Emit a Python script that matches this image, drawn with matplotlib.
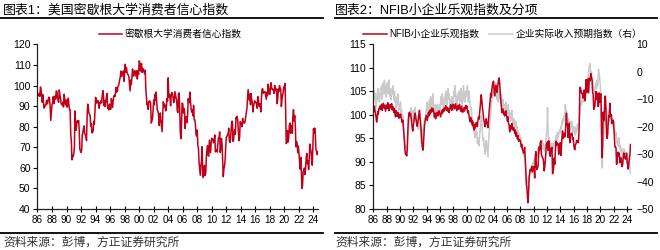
import matplotlib
matplotlib.use("Agg")
import matplotlib.pyplot as plt
import matplotlib.dates as mdates
from matplotlib.lines import Line2D
import pandas as pd

plt.rcParams['font.family'] = ['Liberation Sans', 'Noto Sans CJK SC', 'DejaVu Sans']

# ================= DATA =================
# 密歇根大学消费者信心指数, monthly from 1986-01
michigan = [
    95.6, 95.9, 95.1, 96.2, 94.8, 99.3, 97.7, 94.9, 91.9, 95.6, 91.4, 89.1,
    90.4, 90.2, 90.8, 92.8, 91.1, 91.5, 93.7, 94.4, 93.6, 89.3, 83.1, 86.8,
    90.8, 91.6, 94.6, 91.2, 94.8, 94.7, 93.4, 97.4, 97.3, 94.1, 93.0, 91.9,
    97.9, 95.4, 94.3, 91.5, 90.7, 90.6, 92.0, 89.6, 95.8, 93.9, 90.9, 90.5,
    93.0, 89.5, 91.3, 93.9, 90.6, 88.3, 88.2, 76.4, 72.8, 63.9, 66.0, 65.5,
    66.8, 70.4, 87.7, 81.8, 78.3, 82.1, 82.9, 82.0, 83.0, 78.3, 69.1, 68.2,
    67.5, 68.8, 76.0, 77.2, 79.2, 80.4, 76.6, 76.1, 75.6, 73.3, 85.3, 91.0,
    89.3, 86.6, 85.9, 85.6, 80.3, 81.5, 77.0, 77.3, 77.9, 82.7, 81.2, 88.2,
    94.3, 93.2, 91.5, 92.6, 92.8, 91.2, 89.0, 91.7, 91.5, 92.7, 91.6, 95.1,
    97.6, 95.1, 90.3, 92.5, 89.8, 92.7, 94.4, 96.2, 88.9, 90.2, 88.2, 91.0,
    89.3, 88.5, 93.7, 92.7, 89.4, 92.4, 94.7, 95.3, 94.7, 96.5, 99.2, 96.9,
    97.4, 99.7, 100.0, 101.4, 103.2, 104.5, 107.1, 104.4, 106.0, 105.6, 107.2, 102.1,
    106.6, 110.4, 106.5, 108.7, 106.5, 105.6, 105.2, 104.4, 100.9, 97.4, 102.7, 100.5,
    103.9, 108.1, 105.7, 104.6, 106.8, 107.3, 106.0, 104.5, 107.2, 103.2, 107.2, 105.4,
    112.0, 111.3, 107.1, 109.2, 110.7, 106.4, 108.3, 107.3, 106.8, 105.8, 107.6, 98.4,
    94.7, 90.6, 91.5, 88.4, 92.0, 92.6, 92.4, 91.5, 81.8, 82.7, 83.9, 88.8,
    93.0, 90.7, 95.7, 93.0, 96.9, 92.4, 88.1, 87.6, 86.1, 80.6, 84.2, 86.7,
    82.4, 79.9, 77.6, 86.0, 92.1, 89.7, 90.9, 89.3, 87.7, 89.6, 93.7, 92.6,
    103.8, 94.4, 95.8, 94.2, 90.2, 95.6, 96.7, 95.9, 94.2, 91.7, 92.8, 97.1,
    95.5, 94.1, 92.6, 87.7, 86.9, 96.0, 96.5, 89.1, 76.9, 74.2, 81.6, 91.5,
    91.2, 86.7, 88.9, 87.4, 79.1, 84.9, 84.7, 82.0, 85.4, 93.6, 92.1, 91.7,
    96.9, 91.3, 88.4, 87.1, 88.3, 85.3, 90.4, 83.4, 83.4, 80.9, 76.1, 75.5,
    78.4, 70.8, 69.5, 62.6, 59.8, 56.4, 61.2, 63.0, 70.3, 57.6, 55.3, 60.1,
    61.2, 56.3, 57.3, 65.1, 68.7, 70.8, 66.0, 65.7, 73.5, 70.6, 67.4, 72.5,
    74.4, 73.6, 73.6, 72.2, 73.6, 76.0, 67.8, 68.9, 68.2, 67.7, 71.6, 74.5,
    74.2, 77.5, 67.5, 69.8, 74.3, 71.5, 63.7, 55.7, 59.5, 60.8, 63.7, 69.9,
    75.0, 75.3, 76.2, 76.4, 79.3, 73.2, 72.3, 74.3, 78.3, 82.6, 82.7, 72.9,
    73.8, 77.6, 78.6, 76.4, 84.5, 84.1, 85.1, 82.1, 77.5, 73.2, 75.1, 82.5,
    81.2, 81.6, 80.0, 84.1, 81.9, 82.5, 81.8, 82.5, 84.6, 86.9, 88.8, 93.6,
    98.1, 95.4, 93.0, 95.9, 90.7, 96.1, 93.1, 91.9, 87.2, 90.0, 91.3, 92.6,
    92.0, 91.7, 91.0, 89.0, 94.7, 93.5, 90.0, 89.8, 91.2, 87.2, 93.8, 98.2,
    98.5, 96.3, 96.9, 97.0, 97.1, 95.1, 93.4, 96.8, 95.1, 100.7, 98.5, 95.9,
    95.7, 99.7, 101.4, 98.8, 98.0, 98.2, 97.9, 96.2, 100.1, 98.6, 97.5, 98.3,
    91.2, 93.8, 98.4, 97.2, 100.0, 98.2, 98.4, 89.8, 93.2, 95.5, 96.8, 99.3,
    99.8, 101.0, 89.1, 71.8, 72.3, 78.1, 72.5, 74.1, 80.4, 81.8, 76.9, 80.7,
    79.0, 76.8, 84.9, 88.3, 82.9, 85.5, 81.2, 70.3, 72.8, 71.7, 67.4, 70.6,
    67.2, 62.8, 59.4, 65.2, 58.4, 50.0, 51.5, 58.2, 58.6, 59.9, 56.8, 59.7,
    64.9, 67.0, 62.0, 63.5, 59.2, 64.4, 71.6, 69.5, 67.9, 63.8, 61.3, 69.7,
    79.0, 76.9, 79.4, 77.2, 69.1, 68.2, 66.4, 67.9,
]

# NFIB小企业乐观指数, monthly from 1986-01
nfib = [
    101.5, 100.8, 101.9, 101.0, 100.2, 99.6, 98.5, 99.2, 100.7, 100.2, 101.3, 101.6,
    101.9, 101.2, 101.8, 102.3, 101.0, 101.7, 102.5, 101.9, 101.4, 102.1, 100.8, 101.5,
    102.1, 101.4, 102.6, 101.8, 100.9, 101.7, 102.2, 101.5, 101.9, 102.4, 101.1, 101.8,
    101.2, 100.5, 101.4, 100.3, 99.6, 100.9, 100.2, 99.7, 100.6, 99.9, 99.3, 100.1,
    99.6, 100.2, 99.4, 99.1, 98.4, 98.9, 97.6, 96.0, 94.1, 92.4, 91.6, 91.9,
    91.3, 92.8, 96.2, 99.0, 100.2, 100.6, 99.8, 100.3, 99.4, 98.4, 97.2, 96.6,
    97.8, 98.6, 99.8, 100.4, 99.6, 98.9, 98.1, 97.6, 98.5, 99.1, 100.3, 101.0,
    99.5, 98.4, 96.8, 94.6, 93.2, 92.5, 93.6, 95.9, 97.8, 98.6, 99.2, 99.9,
    99.4, 98.8, 99.6, 100.5, 99.8, 100.9, 100.2, 101.1, 100.6, 101.5, 100.8, 101.4,
    101.0, 100.3, 99.5, 100.4, 99.2, 99.7, 100.1, 100.6, 99.8, 100.2, 100.9, 100.5,
    100.1, 99.6, 100.4, 101.0, 100.3, 101.2, 100.7, 101.5, 100.9, 101.3, 102.0, 101.4,
    101.0, 101.6, 100.8, 101.3, 100.5, 101.1, 101.8, 102.2, 101.5, 101.0, 101.9, 102.3,
    101.7, 102.1, 101.3, 101.9, 102.4, 101.6, 100.9, 101.5, 102.0, 101.2, 101.8, 102.3,
    101.6, 100.8, 101.3, 101.9, 100.6, 101.2, 100.7, 101.5, 100.9, 101.6, 102.0, 101.4,
    101.9, 101.0, 100.4, 100.9, 99.8, 99.1, 98.6, 99.5, 98.4, 98.9, 97.8, 98.5,
    97.4, 96.8, 98.0, 97.2, 97.9, 98.4, 98.1, 97.5, 98.9, 99.6, 99.1, 100.4,
    101.8, 102.9, 104.3, 103.2, 101.6, 100.8, 99.4, 98.7, 98.2, 97.5, 98.6, 99.2,
    98.4, 97.9, 97.3, 98.6, 100.5, 101.8, 102.9, 104.6, 103.8, 105.5, 106.3, 106.9,
    107.2, 105.4, 104.1, 105.6, 106.3, 106.0, 104.8, 105.7, 106.4, 107.5, 107.9, 106.8,
    104.9, 103.2, 101.9, 100.5, 100.9, 101.3, 100.2, 100.6, 99.8, 100.3, 100.9, 100.1,
    99.5, 98.7, 99.6, 98.1, 97.9, 96.4, 97.8, 96.9, 97.6, 98.2, 97.1, 96.8,
    97.4, 96.9, 96.1, 96.8, 95.5, 96.3, 95.7, 94.9, 95.6, 94.4, 94.8, 94.6,
    94.6, 93.8, 93.2, 93.7, 92.6, 92.4, 91.9, 92.6, 93.1, 90.4, 87.5, 85.2,
    84.3, 82.5, 81.3, 83.6, 86.5, 87.8, 88.4, 88.1, 88.6, 89.1, 87.9, 88.4,
    89.0, 88.6, 86.6, 90.6, 92.2, 89.0, 88.4, 88.8, 89.0, 91.7, 93.2, 92.6,
    94.1, 94.5, 91.9, 91.2, 90.9, 90.8, 89.9, 88.1, 88.9, 90.2, 92.0, 93.8,
    93.9, 94.3, 92.5, 94.5, 94.4, 91.4, 91.2, 92.9, 92.8, 93.1, 87.5, 88.0,
    88.9, 90.8, 89.5, 92.1, 94.4, 93.5, 94.1, 94.0, 93.9, 91.6, 92.5, 93.9,
    94.1, 91.4, 93.4, 95.2, 96.6, 95.0, 95.7, 96.1, 95.3, 96.1, 98.1, 100.4,
    97.9, 98.0, 95.2, 96.9, 98.3, 94.1, 95.4, 95.9, 96.1, 96.1, 94.8, 95.2,
    93.9, 92.9, 92.6, 93.6, 93.8, 94.5, 94.6, 94.4, 94.1, 94.9, 98.4, 105.8,
    105.9, 105.3, 104.7, 104.5, 104.5, 103.6, 105.2, 105.3, 103.0, 103.8, 107.5, 104.9,
    106.9, 107.6, 104.7, 104.8, 107.8, 107.2, 107.9, 108.8, 107.9, 107.4, 104.8, 104.4,
    101.2, 101.7, 101.8, 103.5, 105.0, 103.3, 104.7, 103.1, 101.8, 102.4, 104.7, 102.7,
    104.3, 104.5, 96.4, 90.9, 94.4, 100.6, 98.8, 100.2, 104.0, 104.0, 101.4, 95.9,
    95.0, 95.8, 98.2, 99.8, 99.6, 102.5, 99.7, 100.1, 99.1, 98.2, 98.4, 98.9,
    97.1, 95.7, 93.2, 93.2, 93.1, 89.5, 89.9, 91.8, 92.1, 91.3, 91.9, 89.8,
    90.3, 90.9, 90.1, 89.0, 89.4, 91.0, 91.9, 91.3, 90.8, 90.7, 90.6, 91.9,
    89.9, 89.4, 88.5, 89.7, 90.5, 91.5, 93.7,
]

# 企业实际收入预期指数（右）, monthly from 1986-01
earnings = [
    -12, -9, -7, -10, -8, -13, -11, -9, -6, -10, -8, -11,
    -9, -6, -8, -5, -10, -7, -4, -8, -3, -7, -5, -9,
    -6, -4, -8, -5, -3, -7, -9, -6, -10, -7, -8, -5,
    -8, -10, -7, -11, -9, -13, -10, -12, -8, -11, -14, -12,
    -13, -11, -15, -14, -17, -16, -19, -22, -24, -26, -28, -27,
    -29, -27, -24, -21, -19, -17, -15, -14, -13, -16, -14, -18,
    -15, -14, -17, -13, -15, -18, -16, -19, -17, -21, -18, -16,
    -19, -22, -25, -26, -24, -21, -23, -19, -17, -18, -16, -14,
    -13, -11, -15, -12, -14, -10, -13, -9, -12, -15, -11, -8,
    -11, -13, -16, -12, -15, -17, -14, -12, -16, -13, -15, -12,
    -14, -11, -9, -12, -8, -11, -13, -10, -12, -9, -7, -10,
    -12, -9, -6, -10, -8, -11, -13, -10, -12, -9, -11, -14,
    -10, -7, -9, -5, -8, -11, -9, -12, -8, -10, -7, -9,
    -11, -8, -6, -10, -12, -9, -5, -8, -11, -10, -7, -9,
    -8, -5, -9, -11, -7, -10, -12, -14, -13, -16, -18, -20,
    -19, -22, -20, -24, -21, -23, -22, -26, -25, -24, -27, -23,
    -21, -19, -16, -18, -22, -25, -24, -27, -28, -30, -26, -25,
    -27, -29, -31, -26, -23, -20, -17, -15, -12, -10, -9, -7,
    -5, -8, -6, -9, -4, -7, -10, -8, -11, -6, -9, -7,
    -10, -8, -12, -11, -13, -10, -14, -12, -15, -13, -11, -14,
    -13, -15, -12, -16, -14, -17, -15, -18, -16, -14, -17, -19,
    -17, -19, -18, -20, -18, -21, -22, -20, -23, -22, -24, -23,
    -25, -24, -27, -26, -28, -30, -29, -31, -30, -33, -36, -39,
    -41, -42, -40, -38, -39, -37, -35, -36, -37, -34, -35, -33,
    -34, -32, -33, -30, -31, -29, -31, -30, -28, -29, -27, -30,
    -28, -26, -27, -25, -28, -26, -27, -29, -28, -27, -25, -23,
    -21, -13, -22, -25, -24, -27, -26, -28, -27, -26, -29, -28,
    -27, -26, -25, -26, -24, -23, -25, -22, -24, -23, -22, -21,
    -22, -20, -21, -18, -19, -17, -18, -16, -17, -12, -15, -14,
    -16, -18, -17, -19, -20, -18, -21, -19, -20, -18, -22, -20,
    -21, -22, -20, -23, -21, -22, -20, -19, -21, -20, -18, -15,
    -13, -11, -12, -10, -9, -11, -8, -10, -9, -7, -8, -6,
    -4, -2, -5, 0, 2, 3, 1, -1, 0, -3, -2, -5,
    -6, -8, -7, -5, -4, -6, -3, -5, -2, 1, -1, -3,
    -6, -8, -18, -35, -31, -27, -22, -20, -17, -16, -18, -20,
    -19, -17, -15, -14, -16, -18, -17, -19, -18, -16, -17, -19,
    -20, -18, -21, -23, -22, -24, -26, -25, -27, -24, -26, -28,
    -27, -29, -28, -30, -29, -31, -28, -30, -29, -32, -31, -30,
    -33, -31, -32, -34, -33, -35, -37,
]

dates_mich = pd.date_range("1986-01-01", periods=len(michigan), freq="MS")
dates_nfib = pd.date_range("1986-01-01", periods=len(nfib), freq="MS")

RED = "#C0001A"
GRAY = "#CACACA"

fig = plt.figure(figsize=(6.6, 2.5), dpi=100)

# ---- titles / rules ----
fig.text(0.005, 0.958, "图表1：美国密歇根大学消费者信心指数", fontsize=9.3, va="center", ha="left")
fig.text(0.508, 0.958, "图表2：NFIB小企业乐观指数及分项", fontsize=9.3, va="center", ha="left")
for x0, x1 in [(0.0, 0.49), (0.508, 0.995)]:
    fig.add_artist(Line2D([x0, x1], [0.93, 0.93], color="black", lw=1.3))
    fig.add_artist(Line2D([x0, x1], [0.068, 0.068], color="black", lw=1.3))
for x in [0.005, 0.508]:
    fig.text(x, 0.03, "资料来源：彭博，方正证券研究所", fontsize=8.5, va="center", ha="left",
             color="#333333", style="italic")


def style_axis(ax):
    for s in ["top", "right"]:
        ax.spines[s].set_visible(False)
    for s in ["left", "bottom"]:
        ax.spines[s].set_color("#222222")
        ax.spines[s].set_linewidth(0.9)
    ax.xaxis.set_major_locator(mdates.YearLocator(2))
    ax.xaxis.set_major_formatter(mdates.DateFormatter("%y"))
    ax.tick_params(axis="x", direction="inout", length=5, width=0.8, labelsize=7.2, pad=1.5)
    ax.tick_params(axis="y", direction="out", length=3, width=0.8, labelsize=7.5, pad=2)


# ================= CHART 1 =================
ax1 = fig.add_axes([0.0568, 0.164, 0.4255, 0.658])
ax1.plot(dates_mich, michigan, color=RED, lw=1.1, label="密歇根大学消费者信心指数")
ax1.set_ylim(40, 120)
ax1.set_yticks(range(40, 121, 10))
ax1.set_xlim(pd.Timestamp("1986-01-01"), pd.Timestamp("2024-09-01"))
style_axis(ax1)
ax1.legend(loc="center", bbox_to_anchor=(0.258, 0.864), bbox_transform=fig.transFigure,
           frameon=False, fontsize=7, handlelength=2.4, handletextpad=0.3)

# ================= CHART 2 =================
ax2 = fig.add_axes([0.5656, 0.164, 0.3905, 0.658])
l1, = ax2.plot(dates_nfib, nfib, color=RED, lw=1.1, label="NFIB小企业乐观指数")
ax2.set_ylim(80, 115)
ax2.set_yticks(range(80, 116, 5))
ax2.set_xlim(pd.Timestamp("1986-01-01"), pd.Timestamp("2024-08-01"))
style_axis(ax2)

ax3 = ax2.twinx()
l2, = ax3.plot(dates_nfib, earnings, color=GRAY, lw=1.1, label="企业实际收入预期指数（右）")
ax3.set_ylim(-50, 10)
ax3.set_yticks(range(-50, 11, 10))
for s in ["top", "right", "left", "bottom"]:
    ax3.spines[s].set_visible(False)
ax3.tick_params(axis="y", length=0, labelsize=7.5, pad=4)
for lab in ax3.get_yticklabels():
    lab.set_horizontalalignment("left")

# red series on top of the gray one
ax2.set_zorder(ax3.get_zorder() + 1)
ax2.patch.set_visible(False)

fig.legend([l1, l2], ["NFIB小企业乐观指数", "企业实际收入预期指数（右）"],
           loc="center", bbox_to_anchor=(0.762, 0.864), ncol=2, frameon=False,
           fontsize=7, handlelength=2.4, handletextpad=0.3, columnspacing=1.0)

fig.savefig("out.png", dpi=100)
